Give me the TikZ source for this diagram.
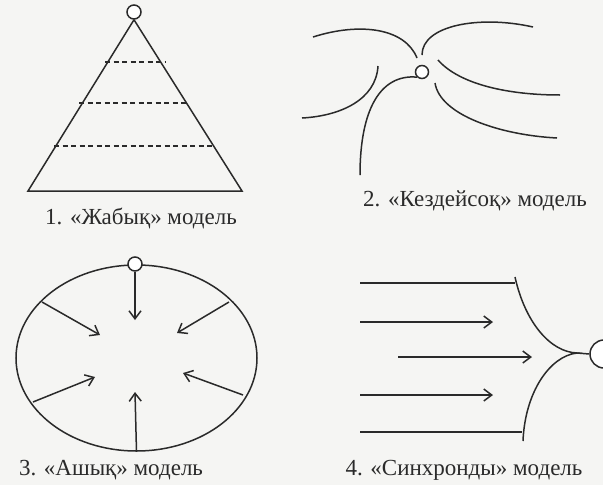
\documentclass[tikz,border=0pt]{standalone}
\usepackage{fontspec}
\setmainfont{Liberation Serif}
\usetikzlibrary{arrows.meta,shapes.geometric}
\definecolor{ink}{HTML}{2A2A2A}
\definecolor{paper}{HTML}{F5F5F3}
\tikzset{
  ln/.style={draw=ink, line width=1.5pt},
  dsh/.style={draw=ink, line width=1.6pt, dash pattern=on 5pt off 3.5pt},
  arr/.style={ln, -{Straight Barb[length=8pt,width=12pt,line width=1.5pt]}},
  dot/.style={circle, draw=ink, line width=1.5pt, fill=white, inner sep=0pt, minimum size=#1},
  lbl/.style={text=ink, font=\fontsize{23}{26}\selectfont, inner sep=0pt}
}
\begin{document}
\begin{tikzpicture}[x=1pt,y=-1pt]
\fill[paper] (0,0) rectangle (603,485);
\useasboundingbox (0,0) rectangle (603,485);

% ---------- 1. closed model ----------
\node[dot=14pt] (c1) at (134,12) {};
\coordinate (t1l) at (28,191);
\coordinate (t1r) at (242,191);
\draw[ln] (c1.south) -- (t1l) -- (t1r) -- (c1.south);
\coordinate (d1a) at (105,62);  \coordinate (d1b) at (166,62);
\coordinate (d2a) at (79,103);  \coordinate (d2b) at (189,103);
\coordinate (d3a) at (54,146);  \coordinate (d3b) at (214,146);
\draw[dsh] (d1a) -- (d1b);
\draw[dsh] (d2a) -- (d2b);
\draw[dsh] (d3a) -- (d3b);
\node[lbl] (l1) at (141,218) {1. «Жабық» модель};

% ---------- 2. random model ----------
\node[dot=13pt] (c2) at (422,72) {};
\coordinate (a1) at (313,37);  \coordinate (a2) at (417,58);
\coordinate (b1) at (422,55);  \coordinate (b2) at (533,27);
\coordinate (e1) at (438,60);  \coordinate (e2) at (560,95);
\coordinate (f1) at (435,83);  \coordinate (f2) at (557,138);
\coordinate (g1) at (378,66);  \coordinate (g2) at (302,118);
\coordinate (h2) at (360,175);
\draw[ln] (a1) .. controls (360,22) and (405,28) .. (a2);
\draw[ln] (b1) .. controls (422,25) and (480,15) .. (b2);
\draw[ln] (e1) .. controls (460,85) and (510,95) .. (e2);
\draw[ln] (f1) .. controls (440,115) and (500,135) .. (f2);
\draw[ln] (g1) .. controls (376,100) and (340,116) .. (g2);
\draw[ln] (c2.south west) .. controls (380,74) and (360,110) .. (h2);
\node[lbl] (l2) at (475,201) {2. «Кездейсоқ» модель};

% ---------- 3. open model ----------
\node[ln, ellipse, minimum width=241pt, minimum height=186pt, inner sep=0pt] (el) at (136.5,358) {};
\node[dot=14pt] (c3) at (135,264) {};
\coordinate (p1) at (135,320);
\coordinate (q1) at (42,302);  \coordinate (q2) at (100,335);
\coordinate (r1) at (229,302); \coordinate (r2) at (177,333);
\coordinate (s1) at (33,402);  \coordinate (s2) at (95,377);
\coordinate (u1) at (243,395); \coordinate (u2) at (183,373);
\coordinate (v2) at (135,392);
\draw[arr] (c3.south) -- (p1);
\draw[arr] (q1) -- (q2);
\draw[arr] (r1) -- (r2);
\draw[arr] (s1) -- (s2);
\draw[arr] (u1) -- (u2);
\draw[arr] (el.south) -- (v2);
\node[lbl] (l3) at (111,470) {3. «Ашық» модель};

% ---------- 4. synchronous model ----------
\node[dot=28pt] (c4) at (604,354) {};
\coordinate (ap) at (577,353);
\coordinate (k1) at (515,277);
\coordinate (k2) at (523,441);
\draw[ln] (k1) .. controls (525,322) and (550,352) .. (ap)
          .. controls (550,356) and (525,392) .. (k2);
\draw[ln] (ap) -- (c4.west);
\coordinate (m1a) at (360,283); \coordinate (m1b) at (515,283);
\coordinate (m2a) at (360,322); \coordinate (m2b) at (493,322);
\coordinate (m3a) at (398,357); \coordinate (m3b) at (532,357);
\coordinate (m4a) at (360,395); \coordinate (m4b) at (493,395);
\coordinate (m5a) at (360,432); \coordinate (m5b) at (522,432);
\draw[ln] (m1a) -- (m1b);
\draw[arr] (m2a) -- (m2b);
\draw[arr] (m3a) -- (m3b);
\draw[arr] (m4a) -- (m4b);
\draw[ln] (m5a) -- (m5b);
\node[lbl] (l4) at (464,470) {4. «Синхронды» модель};
\end{tikzpicture}
\end{document}
